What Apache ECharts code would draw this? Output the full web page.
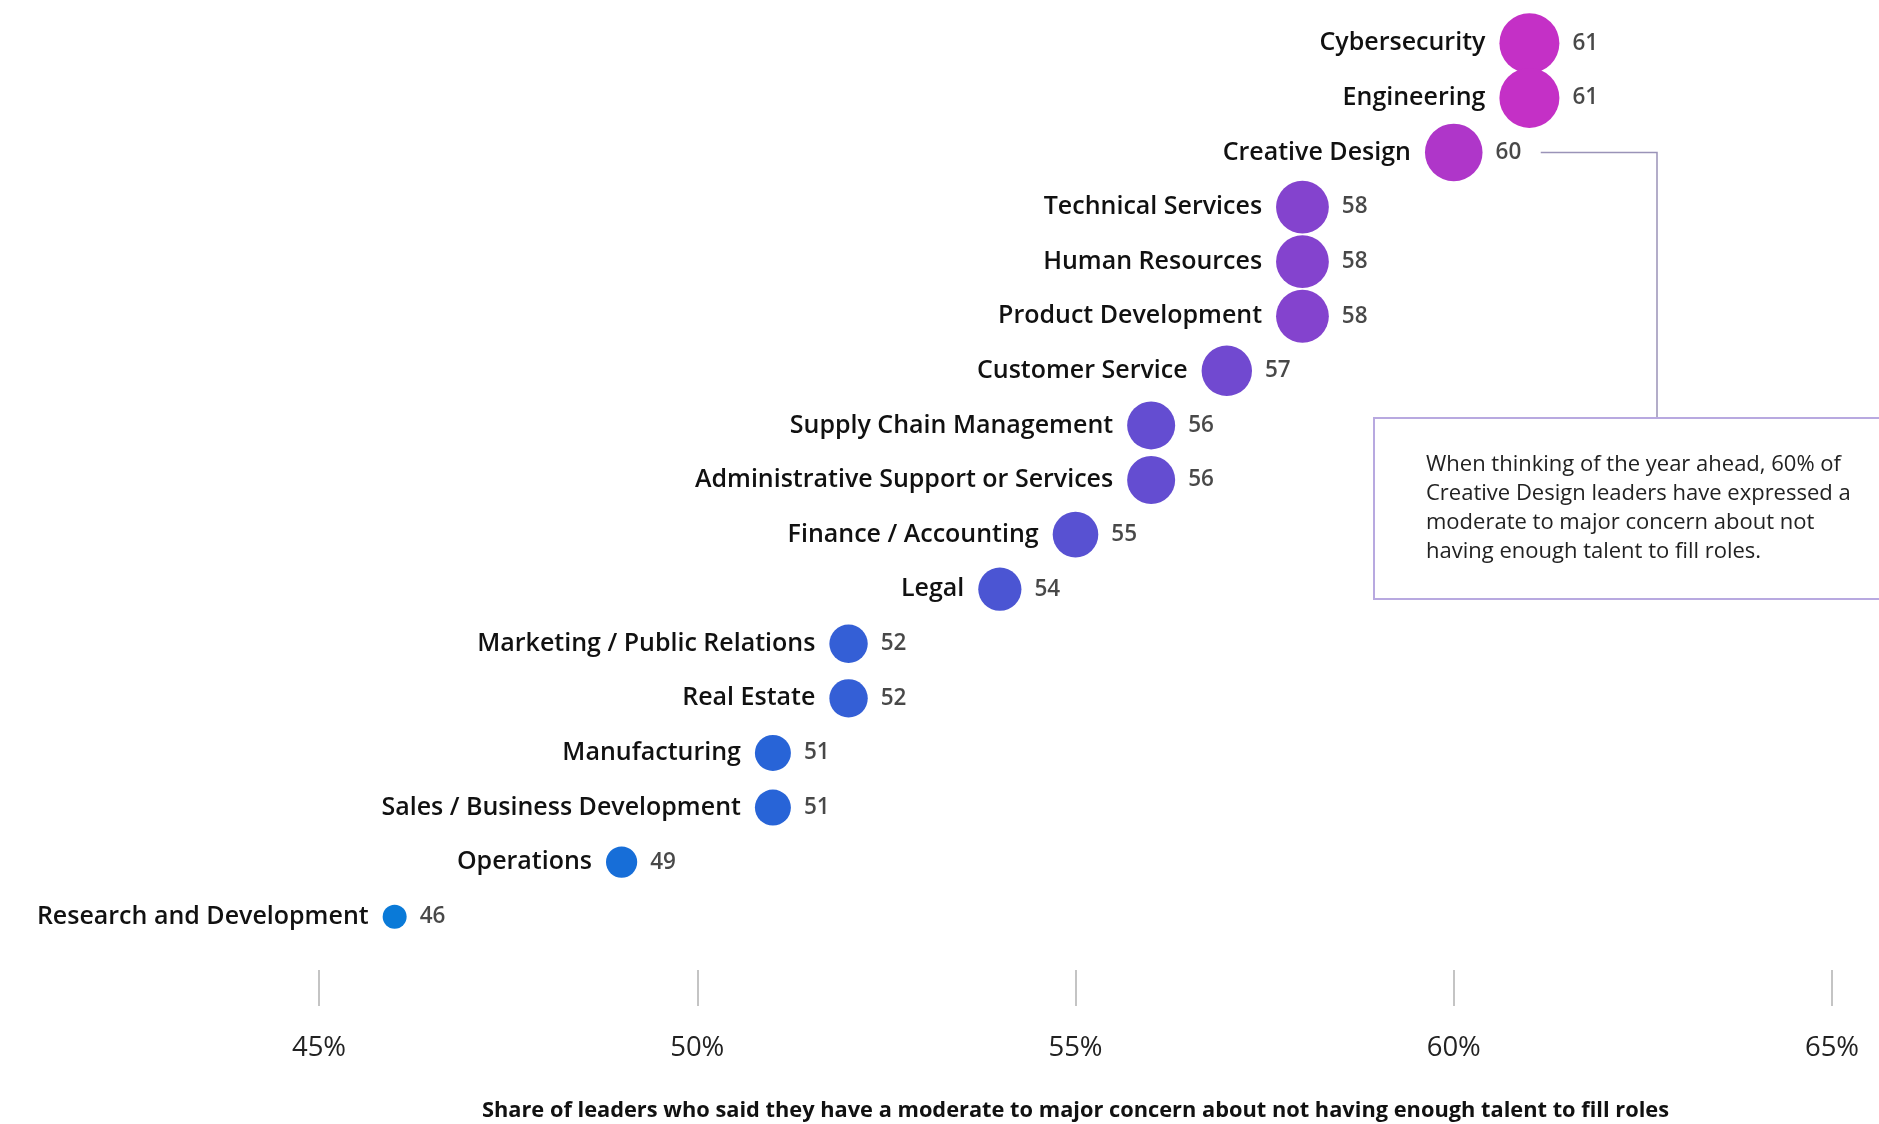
<!DOCTYPE html>
<html>
<head>
<meta charset="utf-8">
<script src="https://cdn.jsdelivr.net/npm/echarts@6/dist/echarts.min.js"></script>
<style>
html,body{margin:0;padding:0;background:#fff;}
#chart{width:1879px;height:1124px;}
</style>
</head>
<body>
<div id="chart"></div>
<script>
var categories = [
  'Cybersecurity','Engineering','Creative Design','Technical Services','Human Resources',
  'Product Development','Customer Service','Supply Chain Management',
  'Administrative Support or Services','Finance / Accounting','Legal',
  'Marketing / Public Relations','Real Estate','Manufacturing',
  'Sales / Business Development','Operations','Research and Development'
];
var values = [61,61,60,58,58,58,57,56,56,55,54,52,52,51,51,49,46];
var xTicks = [45,50,55,60,65];
var axisTitle = 'Share of leaders who said they have a moderate to major concern about not having enough talent to fill roles';
var noteLines = [
  'When thinking of the year ahead, 60% of',
  'Creative Design leaders have expressed a',
  'moderate to major concern about not',
  'having enough talent to fill roles.'
];
var noteCategory = 'Creative Design';

var FONT = '"Open Sans", "Noto Sans", sans-serif';
var data = categories.map(function(c,i){ return [values[i], c]; });
function sizeOf(v){ return 24 + (v[0]-46)*2.4; }

var chart = echarts.init(document.getElementById('chart'));
chart.setOption({
  backgroundColor:'#fff',
  animation:false,
  grid:{left:319,right:47,top:16,bottom:180,containLabel:false,outerBoundsMode:'none'},
  xAxis:{
    type:'value',min:xTicks[0],max:xTicks[xTicks.length-1],interval:5,
    offset:26,
    axisLine:{show:false},
    axisTick:{show:true,length:36,lineStyle:{color:'#c4c4c4',width:2}},
    splitLine:{show:false},
    axisLabel:{margin:64,formatter:'{value}%',fontSize:27.5,color:'#222',fontFamily:FONT},
    name:axisTitle,nameLocation:'middle',nameGap:130,
    nameTextStyle:{fontSize:21.8,fontWeight:'bold',color:'#111',fontFamily:FONT}
  },
  yAxis:{type:'category',data:categories,inverse:true,show:false},
  visualMap:{
    show:false,type:'continuous',min:46,max:61,dimension:0,seriesIndex:0,
    inRange:{color:['#0a7ad8','#1a6bd8','#4557d4','#7448d0','#c430c6']}
  },
  series:[
    {
      type:'scatter',data:data,symbolSize:sizeOf,
      itemStyle:{opacity:1},
      label:{show:true,position:'left',distance:14,
        formatter:function(p){return p.value[1];},
        fontSize:25,fontWeight:600,color:'#111',fontFamily:FONT},
      z:3
    },
    {
      type:'scatter',data:data,symbolSize:sizeOf,
      itemStyle:{color:'rgba(0,0,0,0)'},
      label:{show:true,position:'right',distance:13,
        formatter:function(p){return p.value[0];},
        fontSize:22.5,fontWeight:600,color:'#1a1a1a',fontFamily:FONT},
      z:2
    }
  ]
});

var idx = categories.indexOf(noteCategory);
var pt = chart.convertToPixel({gridIndex:0},[values[idx], noteCategory]);
var cornerX = 1657, boxTop = 418, boxLeft = 1374;
chart.setOption({
  graphic:[
    {type:'polyline',shape:{points:[[pt[0]+87,pt[1]],[cornerX,pt[1]],[cornerX,boxTop]]},
     style:{stroke:'#9a93b8',lineWidth:1.5,fill:null},silent:true},
    {type:'rect',shape:{x:boxLeft,y:boxTop,width:560,height:181},
     style:{stroke:'#b8a9e0',lineWidth:2,fill:'#fff'},silent:true},
    {type:'text',x:1426,y:450,
     style:{text:noteLines.join('\n'),fontSize:22,lineHeight:29,fill:'#222',fontFamily:FONT},silent:true}
  ]
});
</script>
</body>
</html>
